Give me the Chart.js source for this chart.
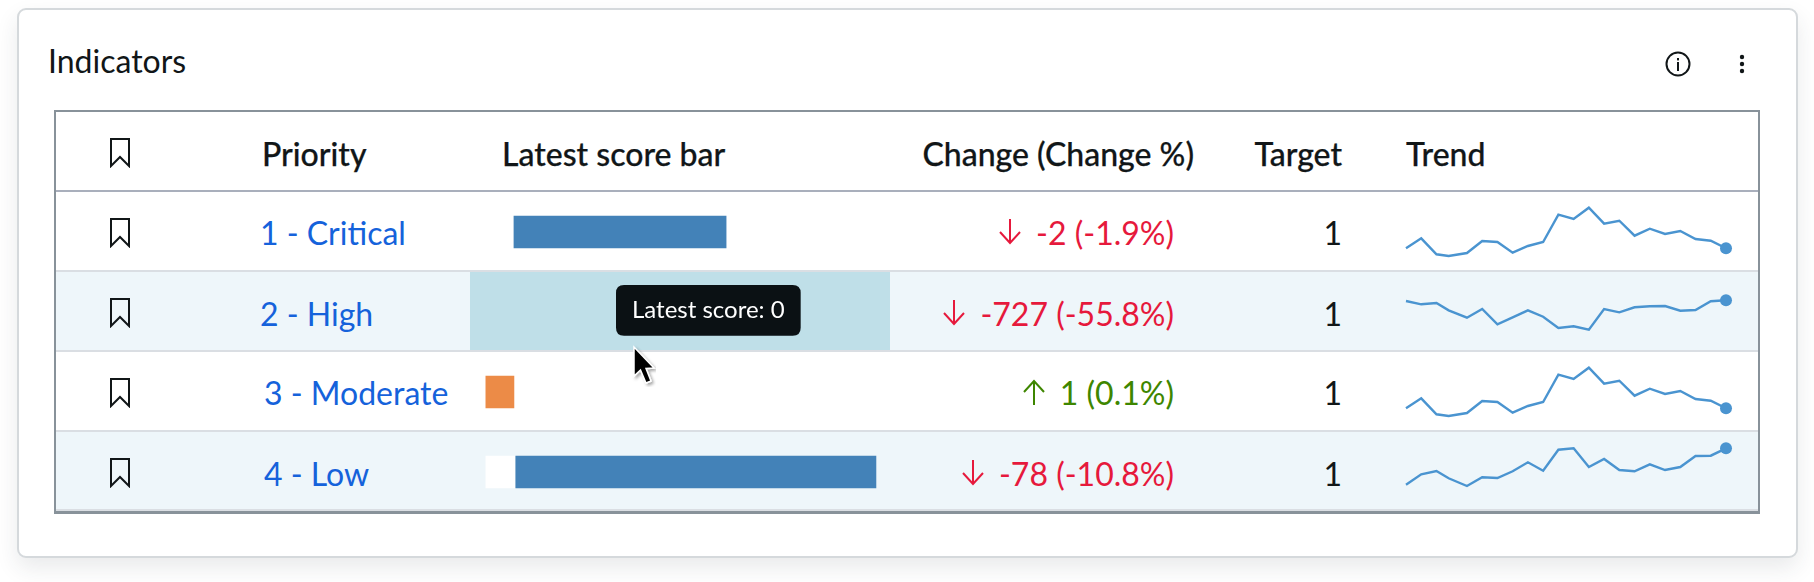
<!DOCTYPE html>
<html>
<head>
<meta charset="utf-8">
<title>Indicators</title>
<script src="https://cdn.jsdelivr.net/npm/chart.js@4"></script>
<style>
  html, body { margin: 0; padding: 0; background: #fff; width: 1814px; height: 582px; overflow: hidden; }
  body { font-family: Lato, sans-serif; color: #111618; position: relative; }
  .abs { position: absolute; }
  #card { left: 17px; top: 8px; width: 1777px; height: 546px; border: 2px solid #d5d9dc; border-radius: 9px; background: #fff; box-shadow: 0 10px 22px rgba(40, 50, 60, 0.10); }
  #frame { left: 54px; top: 110px; width: 1702px; height: 399px; border: 2px solid #88929a; border-bottom-width: 3px; }
  .stripe { left: 56px; width: 1702px; height: 78px; background: #eef6fa; }
  .rule { left: 56px; width: 1702px; height: 2px; background: #dadee3; }
  #hover { left: 470px; top: 271px; width: 420px; height: 80px; background: #bfdfe8; }
  .txt { white-space: nowrap; line-height: 40px; height: 40px; }
  .head { font-size: 32px; font-weight: 500; -webkit-text-stroke: 0.25px #111618; }
  .link { font-size: 32px; color: #1562db; }
  .delta { font-size: 32px; display: flex; align-items: center; justify-content: flex-end; gap: 14px; right: 640px; }
  .num { font-size: 32px; right: 472px; }
  canvas { position: absolute; }
</style>
</head>
<body>
<div id="card" class="abs"></div>
<div class="abs stripe" style="top:272px"></div>
<div class="abs stripe" style="top:432px;height:79px"></div>
<div id="hover" class="abs"></div>
<div class="abs rule" style="top:190px;background:#a9afbc"></div>
<div class="abs rule" style="top:270px"></div>
<div class="abs rule" style="top:350px"></div>
<div class="abs rule" style="top:430px"></div>
<div class="abs rule" style="top:509px"></div>
<div id="frame" class="abs"></div>

<div class="abs txt" style="left:48px;top:41px;font-size:32px">Indicators</div>
<div class="abs txt head" style="left:262px;top:134px">Priority</div>
<div class="abs txt head" style="left:502px;top:134px">Latest score bar</div>
<div class="abs txt head" style="right:620px;top:134px">Change (Change %)</div>
<div class="abs txt head" style="right:472px;top:134px">Target</div>
<div class="abs txt head" style="left:1406px;top:134px">Trend</div>

<svg class="abs" style="left:1664px;top:50px" width="28" height="28" viewBox="0 0 28 28">
  <circle cx="14" cy="14" r="11.5" fill="none" stroke="#111618" stroke-width="2"/>
  <rect x="13" y="12" width="2" height="9" fill="#111618"/>
  <rect x="13" y="8" width="2" height="2.4" fill="#111618"/>
</svg>
<svg class="abs" style="left:1736px;top:50px" width="12" height="28" viewBox="0 0 12 28">
  <circle cx="6" cy="7" r="2.2" fill="#111618"/>
  <circle cx="6" cy="14" r="2.2" fill="#111618"/>
  <circle cx="6" cy="21" r="2.2" fill="#111618"/>
</svg>

<canvas id="scoreBars" style="left:470px;top:192px;width:420px;height:320px"></canvas>
<div id="rows"></div>

<svg class="abs" style="left:628px;top:342px" width="36" height="50" viewBox="0 0 36 50">
  <defs><filter id="cursorShadow"><feDropShadow dx="2" dy="2" stdDeviation="1.5" flood-opacity="0.35"/></filter></defs>
  <path d="M6 5 L6 34 L12.5 28 L18 41 L23 39 L18 26.5 L26 26 Z" fill="#000" stroke="#fff" stroke-width="1.5" filter="url(#cursorShadow)"/>
</svg>

<script>
const categories = ['1 - Critical', '2 - High', '3 - Moderate', '4 - Low'];
const changeValues = ['-2', '-727', '1', '-78'];
const changePercents = ['-1.9%', '-55.8%', '0.1%', '-10.8%'];
const targets = [1, 1, 1, 1];

// score bar: floating ends
const scoreFrom = [0, 0, 0, 0.5];
const scoreTo = [58.9, 0, 0, 100.5];
const belowFrom = [0, 0, -7.8, -7.8];
const belowTo = [0, 0, 0, 0.5];

const trendDays = [0, 1, 2, 2.8, 4, 5, 6, 7, 8, 9, 10, 11, 12, 13, 14, 15, 16, 17, 18, 19, 20, 21];
const trendCritical = [22.7, 32.7, 16.7, 15, 18, 30, 29, 18.3, 25, 29, 56.3, 52, 63.3, 47.3, 50.3, 35.3, 42.3, 37, 40, 32, 30.3, 22.7];
const trendHigh = [50, 46.7, 48, 40.7, 33.3, 42, 26.7, 33.7, 40.7, 34.3, 23, 24.7, 21.3, 42, 38.7, 43.7, 44.7, 45, 40.3, 41, 49.7, 50.7];
const trendModerate = [22.7, 32.7, 16.7, 15, 18, 30, 29, 18.3, 25, 29, 56.3, 52, 63.3, 47.3, 50.3, 35.3, 42.3, 37, 40, 32, 30.3, 22.7];
const trendLow = [26.3, 36.7, 40, 32.7, 25, 33.7, 33, 39.7, 48.7, 40.3, 61.3, 62.7, 44, 52, 41, 39.7, 46.7, 41, 44, 55, 55.3, 62.7];
const trends = [trendCritical, trendHigh, trendModerate, trendLow];

const rowTops = [191, 271, 351, 431];
const labelLefts = [260, 260, 264, 264];
const textOffsets = [22, 23, 22, 23];
const RED = '#e6193c';
const GREEN = '#3e8600';

function bookmarkIcon(top) {
    return '<svg class="abs" style="left:109px;top:' + top + 'px" width="22" height="31" viewBox="0 0 22 31">' +
        '<path d="M2 2 H20 V29 L11 20 L2 29 Z" fill="none" stroke="#111618" stroke-width="2"/></svg>';
}

function arrowIcon(up, color) {
    const d = up ? 'M12 26 V2 M2 13 L12 2 L22 13' : 'M12 0 V24 M2 13 L12 24 L22 13';
    return '<svg width="24" height="26" viewBox="0 0 24 26" style="margin-top:-2px"><path d="' + d + '" fill="none" stroke="' + color + '" stroke-width="2"/></svg>';
}

function buildRows() {
    let html = bookmarkIcon(137);
    categories.forEach((name, i) => {
        const top = rowTops[i];
        const textTop = top + textOffsets[i];
        const up = changeValues[i][0] !== '-';
        const color = up ? GREEN : RED;
        html += bookmarkIcon(top + 26);
        html += '<div class="abs txt link" style="left:' + labelLefts[i] + 'px;top:' + textTop + 'px">' + name + '</div>';
        html += '<div class="abs txt delta" style="top:' + textTop + 'px;color:' + color + '">' + arrowIcon(up, color) +
            '<span>' + changeValues[i] + ' (' + changePercents[i] + ')</span></div>';
        html += '<div class="abs txt num" style="top:' + textTop + 'px">' + targets[i] + '</div>';
        html += '<canvas id="trend' + i + '" style="left:1396px;top:' + top + 'px;width:340px;height:80px"></canvas>';
    });
    document.getElementById('rows').innerHTML = html;
}

function initScoreBars() {
    // tooltip stays pinned over the hovered row
    Chart.Tooltip.positioners.pinned = function () {
        return { x: 154, y: 93 };
    };

    const chart = new Chart(document.getElementById('scoreBars'), {
        type: 'bar',
        data: {
            labels: categories,
            datasets: [{
                label: 'Latest score',
                data: scoreFrom.map((v, i) => [v, scoreTo[i]]),
                backgroundColor: categories.map((c, i) => scoreTo[i] === scoreFrom[i] ? 'transparent' : '#4382b8'),
                borderSkipped: false,
                barThickness: 32,
                grouped: false
            }, {
                label: 'Below',
                data: belowFrom.map((v, i) => [v, belowTo[i]]),
                backgroundColor: categories.map((c, i) => {
                    if (belowTo[i] === belowFrom[i]) return 'transparent';
                    return i === 3 ? '#ffffff' : '#ec8b47';
                }),
                borderSkipped: false,
                barThickness: 32,
                grouped: false
            }]
        },
        options: {
            indexAxis: 'y',
            responsive: false,
            maintainAspectRatio: false,
            animation: false,
            layout: { padding: 0, autoPadding: false },
            events: [],
            plugins: {
                legend: { display: false },
                title: { display: false },
                tooltip: {
                    enabled: true,
                    position: 'pinned',
                    xAlign: 'left',
                    yAlign: 'top',
                    caretSize: 0,
                    caretPadding: 0,
                    displayColors: false,
                    backgroundColor: '#0b1114',
                    bodyColor: '#ffffff',
                    bodyFont: { family: 'Lato', size: 24 },
                    padding: { left: 16, right: 16, top: 11, bottom: 11 },
                    cornerRadius: 8,
                    callbacks: {
                        title: () => '',
                        label: item => item.dataset.label + ': ' + (scoreTo[item.dataIndex] - scoreFrom[item.dataIndex])
                    }
                }
            },
            scales: {
                x: { display: false, type: 'linear', min: -12.2, max: 104.4 },
                y: { display: false, type: 'category' }
            }
        }
    });

    chart.tooltip.setActiveElements([{ datasetIndex: 0, index: 1 }], { x: 0, y: 0 });
    chart.update();
}

function initTrend(i) {
    new Chart(document.getElementById('trend' + i), {
        type: 'line',
        data: {
            datasets: [{
                data: trends[i].map((v, k) => ({ x: trendDays[k], y: v })),
                borderColor: '#4a94d0',
                backgroundColor: '#4a94d0',
                borderWidth: 2.4,
                tension: 0,
                pointBorderWidth: 0,
                pointRadius: ctx => ctx.dataIndex === trends[i].length - 1 ? 6 : 0
            }]
        },
        options: {
            responsive: false,
            maintainAspectRatio: false,
            animation: false,
            layout: { padding: 0, autoPadding: false },
            plugins: { legend: { display: false }, tooltip: { enabled: false } },
            scales: {
                x: { display: false, type: 'linear', min: -0.656, max: 21.656 },
                y: { display: false, min: 0, max: 80 }
            }
        }
    });
}

document.addEventListener('DOMContentLoaded', function () {
    buildRows();
    initScoreBars();
    categories.forEach((c, i) => initTrend(i));
});
</script>
</body>
</html>
